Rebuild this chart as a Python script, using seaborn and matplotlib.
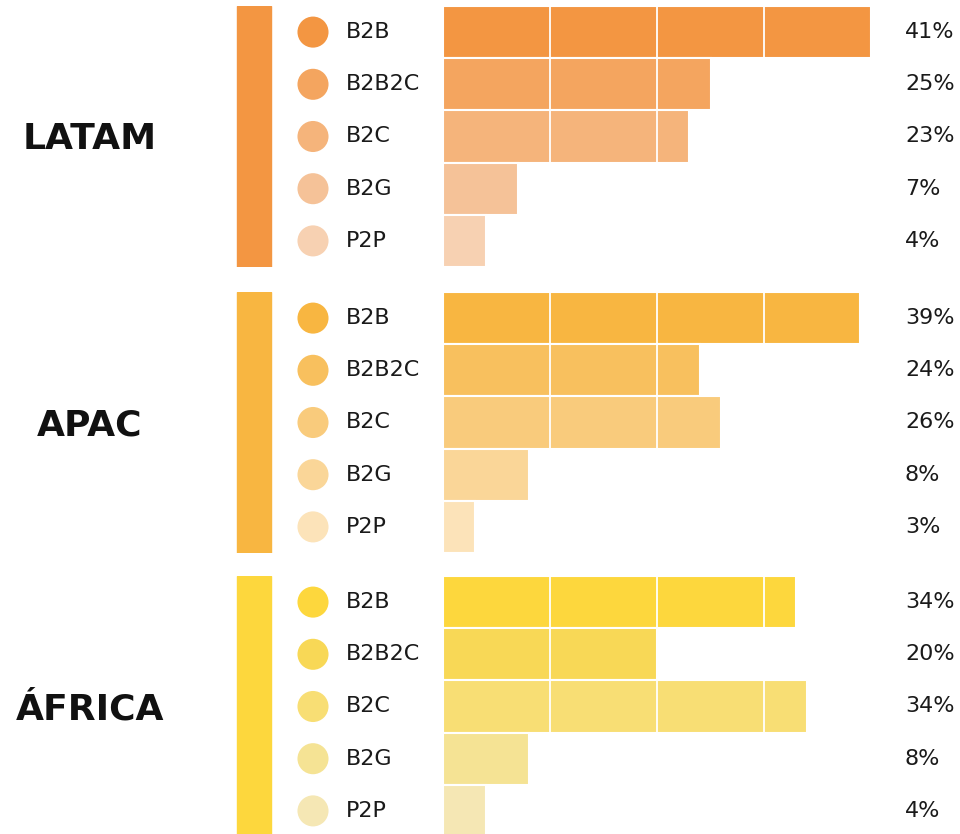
import matplotlib
matplotlib.use('Agg')
import matplotlib.pyplot as plt
import seaborn as sns
import pandas as pd

# Dados
regioes = ['LATAM', 'APAC', 'ÁFRICA']
modelos = ['B2B', 'B2B2C', 'B2C', 'B2G', 'P2P']

latam_vals = [40.0, 25, 23, 7, 4]
apac_vals = [39, 24, 26, 8, 3]
africa_vals = [33, 20, 34, 8, 4]

latam_txt = ['41%', '25%', '23%', '7%', '4%']
apac_txt = ['39%', '24%', '26%', '8%', '3%']
africa_txt = ['34%', '20%', '34%', '8%', '4%']

cores_latam = ['#F39642', '#F4A55F', '#F5B47B', '#F5C298', '#F7D1B2']
cores_apac = ['#F8B641', '#F8C05E', '#F9CB7C', '#FAD698', '#FCE3B9']
cores_africa = ['#FDD73D', '#F8D856', '#F8DE74', '#F5E394', '#F5E7B4']

valores = [latam_vals, apac_vals, africa_vals]
textos = [latam_txt, apac_txt, africa_txt]
paletas = [cores_latam, cores_apac, cores_africa]

sns.set_style('white')
plt.rcParams['font.family'] = ['DejaVu Sans']

fig = plt.figure(figsize=(9.6, 8.34), dpi=100)

W, H = 960, 834
px_pct = 10.7          # pixels por ponto percentual
x0 = 443               # início das barras (px)
xlim = (-x0 / px_pct, (W - x0) / px_pct)

topos = [6, 292, 576]
altura = 261

for i, regiao in enumerate(regioes):
    ax = fig.add_axes([0, 1 - (topos[i] + altura) / H, 1, altura / H])
    paleta = paletas[i]
    df = pd.DataFrame({'modelo': modelos, 'valor': valores[i]})
    sns.barplot(data=df, x='valor', y='modelo', hue='modelo', palette=paleta,
                order=modelos, hue_order=modelos, width=1.0, legend=False,
                edgecolor='white', linewidth=1.5, saturation=1, ax=ax)

    ax.set_xlim(*xlim)
    ax.set_ylim(4.5, -0.5)

    # linhas de grade brancas sobre as barras
    for gx in [10, 20, 30, 40]:
        ax.axvline(gx, color='white', lw=1.3, zorder=5)

    # barra vertical da região
    ax.axvspan((237 - x0) / px_pct, (271 - x0) / px_pct, color=paleta[0], zorder=1)

    # círculos e rótulos
    ax.scatter([(313 - x0) / px_pct] * len(modelos), modelos, c=paleta, s=500,
               zorder=3, linewidths=0)
    for j, m in enumerate(modelos):
        ax.text((346 - x0) / px_pct, j, m, va='center', ha='left',
                fontsize=16, color='#1a1a1a')
        ax.text((905 - x0) / px_pct, j, textos[i][j], va='center', ha='left',
                fontsize=16, color='#1a1a1a')

    ax.text((90 - x0) / px_pct, 2.05, regiao, va='center', ha='center',
            fontsize=26, fontweight='bold', color='#111111')

    ax.set_xlabel('')
    ax.set_ylabel('')
    ax.set_xticks([])
    ax.set_yticks([])
    sns.despine(ax=ax, left=True, bottom=True)

fig.savefig('out.png', dpi=100)
